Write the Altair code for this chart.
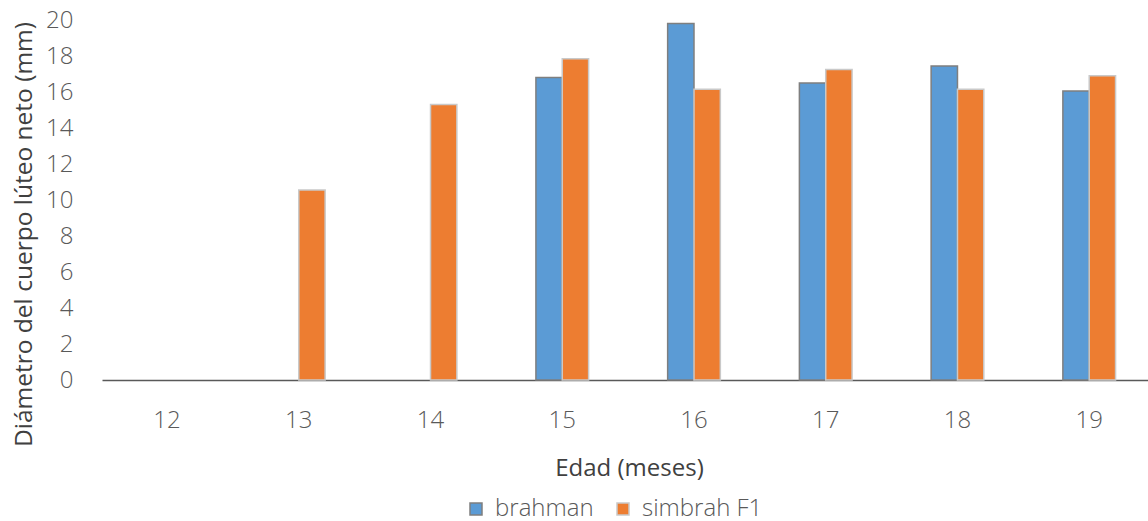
import altair as alt
import pandas as pd

# Age in months (category axis) and mean net corpus luteum diameter (mm)
edades = ["12", "13", "14", "15", "16", "17", "18", "19"]
brahman = [None, None, None, 16.8, 19.8, 16.5, 17.45, 16.05]
simbrah = [None, 10.55, 15.3, 17.85, 16.15, 17.25, 16.15, 16.9]
grupos = ["brahman", "simbrah F1"]

rows = []
for e, b, s in zip(edades, brahman, simbrah):
    if b is not None:
        rows.append({"edad": e, "grupo": grupos[0], "valor": b})
    if s is not None:
        rows.append({"edad": e, "grupo": grupos[1], "valor": s})
df = pd.DataFrame(rows)

FONT = "Open Sans"
GRAY = "#595959"

bars = alt.Chart(df).mark_bar(strokeWidth=1.5).encode(
    x=alt.X(
        "edad:N",
        scale=alt.Scale(domain=edades, paddingInner=0.6, paddingOuter=0.27, align=0.544),
        axis=alt.Axis(
            title="Edad (meses)",
            labelAngle=0,
            ticks=False,
            domainColor=GRAY,
            domainWidth=1.5,
            labelPadding=28,
            labelFontSize=24,
            labelColor=GRAY,
            labelFont=FONT,
            labelFontWeight=300,
            titleFontSize=24,
            titleFont=FONT,
            titleFontWeight=400,
            titleColor="#404040",
            titleAnchor="middle",
            titleX=527,
            titlePadding=24,
        ),
    ),
    xOffset=alt.XOffset("grupo:N", scale=alt.Scale(domain=grupos, paddingInner=0, paddingOuter=0)),
    y=alt.Y(
        "valor:Q",
        scale=alt.Scale(domain=[0, 20], nice=False),
        axis=alt.Axis(
            title="Diámetro del cuerpo lúteo neto (mm)",
            values=list(range(0, 21, 2)),
            grid=False,
            domain=False,
            ticks=False,
            labelPadding=29,
            labelFontSize=24,
            labelColor=GRAY,
            labelFont=FONT,
            labelFontWeight=300,
            titleFontSize=24.5,
            titleFont=FONT,
            titleFontWeight=400,
            titleColor="#404040",
            titleBaseline="alphabetic",
            titleX=-71,
            titleY=214,
        ),
    ),
    fill=alt.Fill(
        "grupo:N",
        scale=alt.Scale(domain=grupos, range=["#5b9bd5", "#ed7d31"]),
        legend=alt.Legend(
            title=None,
            orient="none",
            direction="horizontal",
            legendX=362,
            legendY=477,
            padding=0,
            symbolType="square",
            symbolSize=144,
            symbolStrokeWidth=1.5,
            labelOffset=7,
            labelFontSize=24,
            labelFont=FONT,
            labelFontWeight=300,
            labelColor=GRAY,
            columnPadding=17,
        ),
    ),
    stroke=alt.Stroke(
        "grupo:N",
        scale=alt.Scale(domain=grupos, range=["#7f7f7f", "#c9c9c9"]),
        legend=None,
    ),
)

chart = bars.properties(
    width=1046,
    height=360,
    padding={"left": 102, "top": 20, "right": 0, "bottom": 141},
    autosize=alt.AutoSizeParams(type="none"),
).configure_view(stroke=None)

chart.save("out.html", embed_options={"renderer": "svg", "actions": False})
